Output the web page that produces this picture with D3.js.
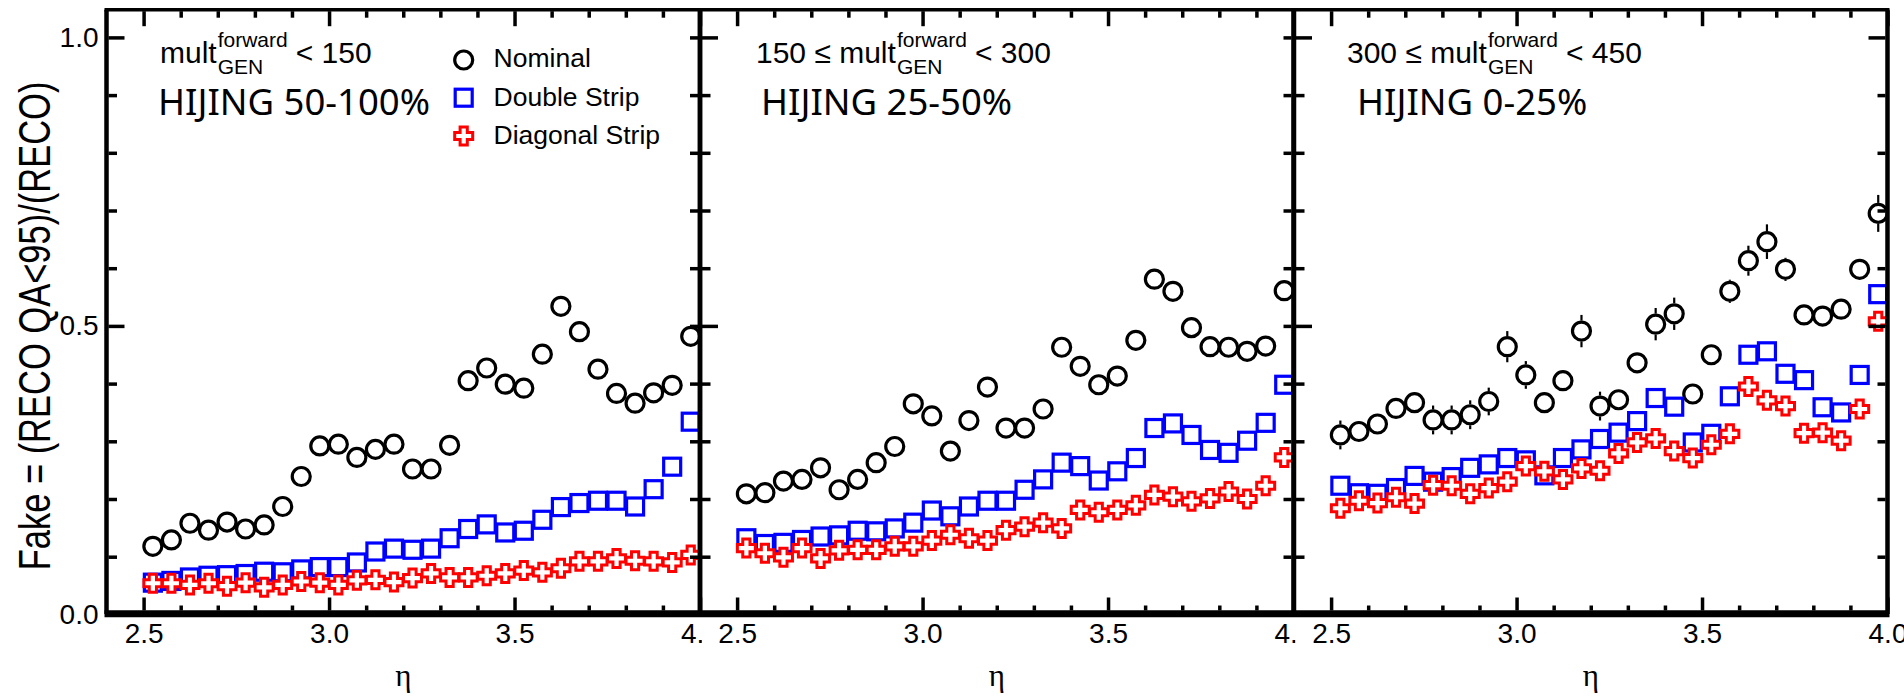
<!DOCTYPE html>
<html>
<head>
<meta charset="utf-8">
<script src="https://cdnjs.cloudflare.com/ajax/libs/d3/7.8.5/d3.min.js"></script>
<style>
  body { margin: 0; background: #ffffff; }
  svg { display: block; }
  text { font-family: "Liberation Sans", Arial, Helvetica, sans-serif; fill: #000; }
</style>
</head>
<body>
<div class="chart"></div>
<script>
// Step 0: data
//= ================================
// eta bin centres (same for every panel)
var etaBins = [2.525, 2.575, 2.625, 2.675, 2.725, 2.775, 2.825, 2.875, 2.925, 2.975,
  3.025, 3.075, 3.125, 3.175, 3.225, 3.275, 3.325, 3.375, 3.425, 3.475,
  3.525, 3.575, 3.625, 3.675, 3.725, 3.775, 3.825, 3.875, 3.925, 3.975];

// panel 1: mult < 150, HIJING 50-100%
var nominal1 = [0.118, 0.129, 0.158, 0.146, 0.160, 0.148, 0.155, 0.187, 0.239, 0.292,
  0.295, 0.272, 0.286, 0.295, 0.252, 0.252, 0.293, 0.405, 0.427, 0.399,
  0.392, 0.451, 0.534, 0.490, 0.425, 0.383, 0.366, 0.384, 0.397, 0.482];
var double1 = [0.055, 0.058, 0.064, 0.067, 0.068, 0.070, 0.074, 0.073, 0.078, 0.082,
  0.082, 0.090, 0.109, 0.114, 0.112, 0.114, 0.132, 0.148, 0.156, 0.142,
  0.145, 0.164, 0.186, 0.193, 0.197, 0.197, 0.187, 0.217, 0.256, 0.334];
var diagonal1 = [0.054, 0.054, 0.051, 0.054, 0.049, 0.055, 0.047, 0.051, 0.057, 0.055,
  0.051, 0.059, 0.060, 0.056, 0.063, 0.071, 0.064, 0.064, 0.067, 0.071,
  0.076, 0.073, 0.080, 0.092, 0.092, 0.097, 0.093, 0.092, 0.090, 0.103];

// panel 2: 150 <= mult < 300, HIJING 25-50%
var nominal2 = [0.209, 0.211, 0.231, 0.234, 0.254, 0.216, 0.234, 0.263, 0.291, 0.365,
  0.344, 0.283, 0.336, 0.394, 0.323, 0.323, 0.356, 0.463, 0.430, 0.398,
  0.413, 0.475, 0.581, 0.560, 0.497, 0.464, 0.463, 0.456, 0.465, 0.561];
var double2 = [0.132, 0.122, 0.124, 0.129, 0.135, 0.137, 0.145, 0.144, 0.149, 0.159,
  0.180, 0.170, 0.187, 0.197, 0.197, 0.216, 0.234, 0.263, 0.257, 0.232,
  0.248, 0.271, 0.323, 0.331, 0.311, 0.285, 0.280, 0.301, 0.332, 0.398];
var diagonal2 = [0.115, 0.106, 0.099, 0.115, 0.097, 0.111, 0.112, 0.112, 0.118, 0.118,
  0.128, 0.138, 0.132, 0.128, 0.146, 0.152, 0.159, 0.149, 0.181, 0.177,
  0.181, 0.189, 0.207, 0.204, 0.196, 0.201, 0.213, 0.200, 0.223, 0.272];

// panel 3: 300 <= mult < 450, HIJING 0-25%
var nominal3 = [0.311, 0.317, 0.330, 0.357, 0.367, 0.337, 0.337, 0.346, 0.369, 0.464,
  0.415, 0.367, 0.405, 0.491, 0.361, 0.372, 0.436, 0.503, 0.521, 0.382,
  0.450, 0.560, 0.613, 0.646, 0.598, 0.519, 0.517, 0.529, 0.598, 0.695];
var nominal3Err = [0.025, 0.018, 0.018, 0.018, 0.018, 0.025, 0.025, 0.025, 0.024, 0.027,
  0.024, 0.018, 0.018, 0.028, 0.025, 0.018, 0.018, 0.028, 0.028, 0.018,
  0.018, 0.020, 0.026, 0.030, 0.020, 0.018, 0.018, 0.018, 0.018, 0.032];
var double3 = [0.223, 0.210, 0.209, 0.219, 0.240, 0.230, 0.238, 0.254, 0.260, 0.271,
  0.267, 0.241, 0.271, 0.286, 0.304, 0.315, 0.335, 0.375, 0.360, 0.298,
  0.313, 0.378, 0.450, 0.456, 0.417, 0.406, 0.359, 0.350, 0.415, 0.555];
var diagonal3 = [0.184, 0.197, 0.193, 0.203, 0.192, 0.224, 0.223, 0.209, 0.219, 0.230,
  0.257, 0.248, 0.234, 0.253, 0.249, 0.279, 0.298, 0.305, 0.283, 0.271,
  0.294, 0.313, 0.395, 0.371, 0.361, 0.314, 0.315, 0.301, 0.356, 0.508];

// tick labels and texts
var xMajorTicks = [2.5, 3.0, 3.5, 4.0];
var xMinorTicks = [2.6, 2.7, 2.8, 2.9, 3.1, 3.2, 3.3, 3.4, 3.6, 3.7, 3.8, 3.9];
var xTickLabels = ["2.5", "3.0", "3.5", "4.0"];
var yMajorTicks = [0, 0.5, 1.0];
var yMinorTicks = [0.1, 0.2, 0.3, 0.4, 0.6, 0.7, 0.8, 0.9];
var yTickLabels = ["0.0", "0.5", "1.0"];
var multPrefix = ["", "150 \u2264 ", "300 \u2264 "];
var multSuffix = ["< 150", "< 300", "< 450"];
var hijingLabels = ["HIJING 50-100%", "HIJING 25-50%", "HIJING 0-25%"];
var legendLabels = ["Nominal", "Double Strip", "Diagonal Strip"];

var nominalSeries = [nominal1, nominal2, nominal3];
var nominalErrors = [null, null, nominal3Err];
var doubleSeries = [double1, double2, double3];
var diagonalSeries = [diagonal1, diagonal2, diagonal3];

// Step 1: set up the drawing
//= ================================
var svgWidth = 1904;
var svgHeight = 697;

var panelLeft = [106.5, 700, 1294];
var panelWidth = 593.5;
var multX = [160, 756, 1347];
var hijingX = [158, 761, 1357];

var y = d3.scaleLinear().domain([0, 1]).range([614.4, 37.4]);
var yTop = y(1.048);

var svg = d3
  .select(".chart")
  .append("svg")
  .attr("width", svgWidth)
  .attr("height", svgHeight);

var defs = svg.append("defs");

// outlined greek cross used for the diagonal strip markers
var crossS = 9;
var crossA = 3.6;
var crossPath = "M" + (-crossA) + "," + (-crossS) + "H" + crossA + "V" + (-crossA) +
  "H" + crossS + "V" + crossA + "H" + crossA + "V" + crossS + "H" + (-crossA) +
  "V" + crossA + "H" + (-crossS) + "V" + (-crossA) + "H" + (-crossA) + "Z";

var circleR = 9;

function styleTicks(g, width) {
  g.select(".domain").remove();
  g.selectAll(".tick line").attr("stroke", "#000").attr("stroke-width", width);
}

function drawCircles(g, x, values, errs) {
  var pts = etaBins.map(function(e, k) { return { eta: e, v: values[k], err: errs ? errs[k] : 0 }; });
  if (errs) {
    // error bars only outside the marker, like ROOT does
    var bars = pts.filter(function(d) { return d.err * (y(0) - y(1)) > circleR + 1.5; });
    g.selectAll(".errUp")
      .data(bars)
      .enter()
      .append("line")
      .attr("x1", function(d) { return x(d.eta); })
      .attr("x2", function(d) { return x(d.eta); })
      .attr("y1", function(d) { return y(d.v) - circleR - 1.5; })
      .attr("y2", function(d) { return y(d.v + d.err); })
      .attr("stroke", "#000")
      .attr("stroke-width", 2.2);
    g.selectAll(".errDown")
      .data(bars)
      .enter()
      .append("line")
      .attr("x1", function(d) { return x(d.eta); })
      .attr("x2", function(d) { return x(d.eta); })
      .attr("y1", function(d) { return y(d.v) + circleR + 1.5; })
      .attr("y2", function(d) { return y(d.v - d.err); })
      .attr("stroke", "#000")
      .attr("stroke-width", 2.2);
  }
  g.selectAll(".nom")
    .data(pts)
    .enter()
    .append("circle")
    .attr("cx", function(d) { return x(d.eta); })
    .attr("cy", function(d) { return y(d.v); })
    .attr("r", circleR)
    .attr("fill", "none")
    .attr("stroke", "#000")
    .attr("stroke-width", 3.2);
}

function drawSquares(g, x, values) {
  g.selectAll(".dbl")
    .data(values)
    .enter()
    .append("rect")
    .attr("x", function(d, k) { return x(etaBins[k]) - 8.5; })
    .attr("y", function(d) { return y(d) - 8.5; })
    .attr("width", 17)
    .attr("height", 17)
    .attr("fill", "none")
    .attr("stroke", "#0000ff")
    .attr("stroke-width", 3.2);
}

function drawCrosses(g, x, values) {
  g.selectAll(".diag")
    .data(values)
    .enter()
    .append("path")
    .attr("d", crossPath)
    .attr("transform", function(d, k) { return "translate(" + x(etaBins[k]) + "," + y(d) + ")"; })
    .attr("fill", "#fff")
    .attr("stroke", "#ff0000")
    .attr("stroke-width", 3);
}

// Step 2: the three panels
//= ================================
panelLeft.forEach(function(left, i) {
  var right = left + panelWidth;
  var x = d3.scaleLinear().domain([2.4, 4.0]).range([left, right]);
  var last = i === panelLeft.length - 1;

  // clip for the tick labels ("4.0" gets cut at the panel border)
  defs.append("clipPath")
    .attr("id", "lab" + i)
    .append("rect")
    .attr("x", left - 60)
    .attr("y", 600)
    .attr("width", last ? panelWidth + 80 : panelWidth + 62)
    .attr("height", 80);

  // data
  var marks = svg.append("g");
  drawCircles(marks, x, nominalSeries[i], nominalErrors[i]);
  drawSquares(marks, x, doubleSeries[i]);
  drawCrosses(marks, x, diagonalSeries[i]);

  // bottom ticks, pointing up
  svg.append("g").attr("transform", "translate(0,610.5)")
    .call(d3.axisTop(x).tickValues(xMajorTicks).tickSize(13).tickFormat(""))
    .call(styleTicks, 3.5);
  svg.append("g").attr("transform", "translate(0,610.5)")
    .call(d3.axisTop(x).tickValues(xMinorTicks).tickSize(5).tickFormat(""))
    .call(styleTicks, 3.5);

  // top ticks, pointing down
  svg.append("g").attr("transform", "translate(0," + (yTop + 1.5) + ")")
    .call(d3.axisBottom(x).tickValues(xMajorTicks).tickSize(15).tickFormat(""))
    .call(styleTicks, 3.5);
  svg.append("g").attr("transform", "translate(0," + (yTop + 1.5) + ")")
    .call(d3.axisBottom(x).tickValues(xMinorTicks).tickSize(6.5).tickFormat(""))
    .call(styleTicks, 3.5);

  // left ticks, pointing right
  svg.append("g").attr("transform", "translate(" + (left + 2) + ",0)")
    .call(d3.axisRight(y).tickValues(yMajorTicks).tickSize(16).tickFormat(""))
    .call(styleTicks, 3.5);
  svg.append("g").attr("transform", "translate(" + (left + 2) + ",0)")
    .call(d3.axisRight(y).tickValues(yMinorTicks).tickSize(8.5).tickFormat(""))
    .call(styleTicks, 3.5);

  // right ticks, pointing left
  svg.append("g").attr("transform", "translate(" + (right - 2) + ",0)")
    .call(d3.axisLeft(y).tickValues(yMajorTicks).tickSize(last ? 17 : 8).tickFormat(""))
    .call(styleTicks, 3.5);
  svg.append("g").attr("transform", "translate(" + (right - 2) + ",0)")
    .call(d3.axisLeft(y).tickValues(yMinorTicks).tickSize(8).tickFormat(""))
    .call(styleTicks, 3.5);

  // panel borders
  svg.append("line")
    .attr("x1", left).attr("x2", left)
    .attr("y1", yTop).attr("y2", 614)
    .attr("stroke", "#000").attr("stroke-width", 4.5);
  svg.append("line")
    .attr("x1", right).attr("x2", right)
    .attr("y1", yTop).attr("y2", 614)
    .attr("stroke", "#000").attr("stroke-width", 4.5);

  // x tick labels, inside a clipped wrapper so the clip stays in page coordinates
  svg.append("g")
    .attr("clip-path", "url(#lab" + i + ")")
    .append("g")
    .attr("transform", "translate(0," + y(0) + ")")
    .call(d3.axisBottom(x).tickValues(xMajorTicks).tickSize(0).tickPadding(9)
      .tickFormat(function(d, k) { return xTickLabels[k]; }))
    .call(function(g) {
      g.select(".domain").remove();
      g.selectAll("text").attr("font-size", 28).attr("font-family", "Liberation Sans, Arial, sans-serif");
    });

  // x axis title
  svg.append("text")
    .attr("x", (left + right) / 2)
    .attr("y", 686)
    .attr("text-anchor", "middle")
    .attr("font-size", 31)
    .style("font-family", "'Liberation Serif', 'Times New Roman', serif")
    .text("\u03b7");

  // multiplicity label with super/subscript
  var t1 = svg.append("text")
    .attr("x", multX[i]).attr("y", 63)
    .attr("font-size", 30)
    .text(multPrefix[i] + "mult");
  var sx = multX[i] + t1.node().getComputedTextLength() + 1;
  var sup = svg.append("text").attr("x", sx).attr("y", 47).attr("font-size", 21).text("forward");
  var sub = svg.append("text").attr("x", sx).attr("y", 73.5).attr("font-size", 21).text("GEN");
  var sw = Math.max(sup.node().getComputedTextLength(), sub.node().getComputedTextLength());
  svg.append("text")
    .attr("x", sx + sw + 8).attr("y", 63)
    .attr("font-size", 30)
    .text(multSuffix[i]);

  // generator / centrality label
  svg.append("text")
    .attr("x", hijingX[i]).attr("y", 115)
    .attr("font-size", 36.5)
    .style("font-family", "'Noto Sans', 'Open Sans', sans-serif")
    .text(hijingLabels[i]);
});

// top frame line and thick bottom axis line
svg.append("line")
  .attr("x1", panelLeft[0] - 2).attr("x2", panelLeft[2] + panelWidth + 2)
  .attr("y1", yTop).attr("y2", yTop)
  .attr("stroke", "#000").attr("stroke-width", 3.5);
svg.append("line")
  .attr("x1", panelLeft[0] - 2).attr("x2", panelLeft[2] + panelWidth + 2)
  .attr("y1", 613.8).attr("y2", 613.8)
  .attr("stroke", "#000").attr("stroke-width", 7);

// y tick labels (first panel only)
svg.append("g")
  .attr("transform", "translate(" + panelLeft[0] + ",0)")
  .call(d3.axisLeft(y).tickValues(yMajorTicks).tickSize(0).tickPadding(8)
    .tickFormat(function(d, k) { return yTickLabels[k]; }))
  .call(function(g) {
    g.select(".domain").remove();
    g.selectAll("text").attr("font-size", 28).attr("font-family", "Liberation Sans, Arial, sans-serif");
  });

// y axis title
svg.append("text")
  .attr("transform", "translate(50,326) rotate(-90) scale(1,1.3)")
  .attr("text-anchor", "middle")
  .attr("font-size", 34.5)
  .text("Fake = (RECO QA<95)/(RECO)");

// Step 3: legend
//= ================================
var legend = svg.append("g");
var legendX = 463.7;
var legendMarkY = [60, 97.7, 136];
var legendTextY = [66.7, 106, 144];

legend.append("circle")
  .attr("cx", legendX).attr("cy", legendMarkY[0]).attr("r", circleR)
  .attr("fill", "none").attr("stroke", "#000").attr("stroke-width", 3.2);
legend.append("rect")
  .attr("x", legendX - 8.5).attr("y", legendMarkY[1] - 8.5)
  .attr("width", 17).attr("height", 17)
  .attr("fill", "none").attr("stroke", "#0000ff").attr("stroke-width", 3.2);
legend.append("path")
  .attr("d", crossPath)
  .attr("transform", "translate(" + legendX + "," + legendMarkY[2] + ")")
  .attr("fill", "#fff").attr("stroke", "#ff0000").attr("stroke-width", 3);

legend.selectAll(".lab")
  .data(legendLabels)
  .enter()
  .append("text")
  .attr("x", 493.6)
  .attr("y", function(d, k) { return legendTextY[k]; })
  .attr("font-size", 26.5)
  .text(function(d) { return d; });
</script>
</body>
</html>
